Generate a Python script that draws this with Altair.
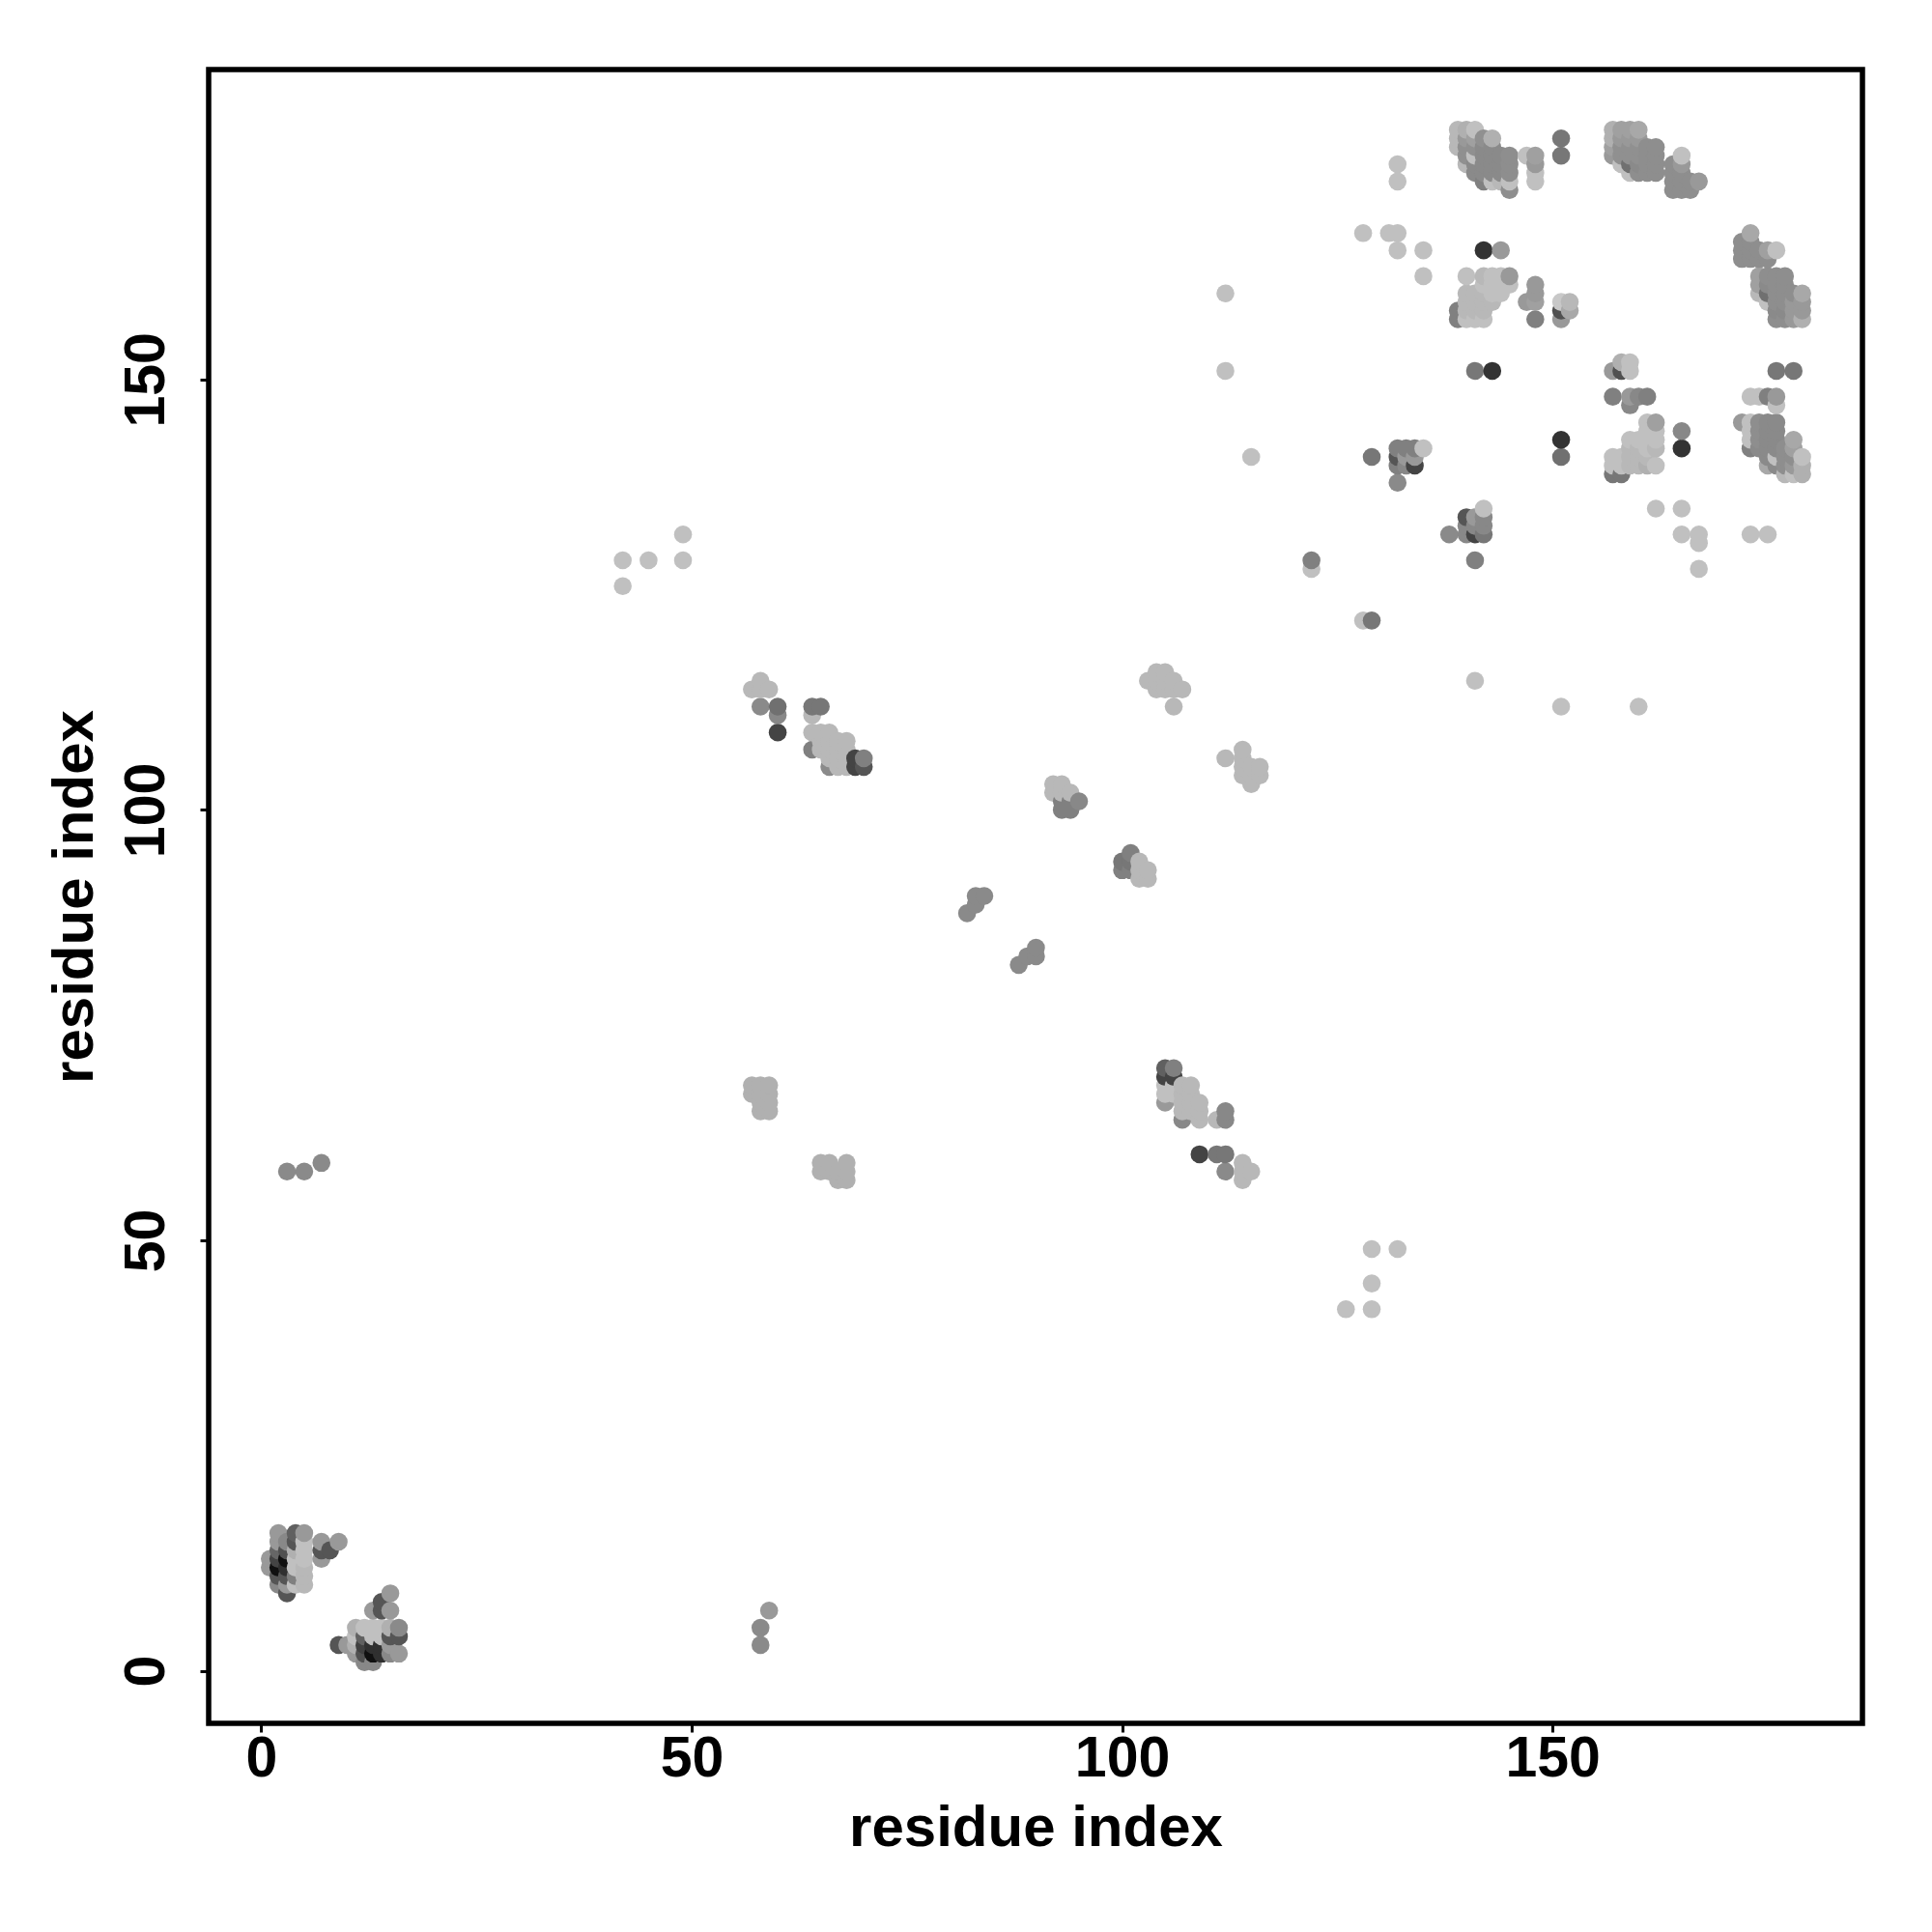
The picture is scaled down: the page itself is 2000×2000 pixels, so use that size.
import altair as alt
import pandas as pd

# (residue x, residue y, gray level)
low_a = [(1,13,0x99),(1,12,0x99),(2,16,0x99),(2,15,0x99),(2,14,0x66),(2,13,0x44),(2,12,0x10),(2,11,0x55),(2,10,0x88),
         (3,15,0x88),(3,14,0x50),(3,13,0x10),(3,12,0x30),(3,11,0x55),(3,10,0x99),(3,9,0x55),
         (4,16,0x60),(4,15,0x55),(4,14,0xB0),(4,13,0xC0),(4,12,0xC0),(4,11,0x80),(4,10,0xC0),
         (5,16,0x99),(5,15,0xC0),(5,14,0xC0),(5,13,0xC0),(5,12,0xB8),(5,11,0xB8),(5,10,0xB8),
         (7,15,0x99),(7,14,0x55),(7,13,0x99),(8,14,0x55),(9,15,0x99)]
low_b = [(9,3,0x55),(10,3,0x99),(11,5,0xB0),(11,4,0xC0),(11,3,0xB0),(11,2,0x99),
         (12,5,0xC0),(12,4,0x60),(12,3,0x40),(12,2,0x50),(12,1,0x88),
         (13,7,0x99),(13,5,0xC0),(13,4,0xC0),(13,3,0x30),(13,2,0x10),(13,1,0x88),
         (14,8,0x55),(14,7,0x55),(14,5,0xC0),(14,4,0xC0),(14,3,0x30),(14,2,0x30),
         (15,9,0x99),(15,7,0x99),(15,5,0xB0),(15,4,0x55),(15,3,0x99),(15,2,0x88),
         (16,5,0x8A),(16,4,0x55),(16,2,0x99)]
sparse_dark = [(3,58,0x8A),(5,58,0x8A),(7,59,0x8A),(59,7,0x99),(58,5,0x8A),(58,3,0x8A),
               (122,129,0x80),(129,122,0x77),(141,129,0x80),(129,141,0x77),
               (142,165,0x33),(144,165,0x99),(141,151,0x77),(143,151,0x33),
               (151,143,0x33),(151,141,0x70),(165,144,0x88),(165,142,0x33),
               (151,178,0x77),(151,176,0x77),(176,151,0x77),(178,151,0x77)]
sparse_light = [(42,129,0xC0),(42,126,0xC0),(45,129,0xC0),(49,129,0xC0),(49,132,0xC0),
                (122,128,0xC0),(128,122,0xC0),(129,49,0xC0),(132,49,0xC0),(129,45,0xC0),
                (129,42,0xC0),(126,42,0xC0),(141,115,0xC0),(151,112,0xC0),(160,112,0xC0),
                (112,160,0xC0),(112,151,0xC0),(115,141,0xC0),(128,167,0xC0),(131,167,0xC0),
                (132,167,0xC0),(132,165,0xC0),(132,173,0xC0),(132,175,0xC0),(135,165,0xC0),
                (135,162,0xC0),(162,135,0xC0),(165,135,0xC0),(165,132,0xC0),(167,132,0xC0),
                (167,131,0xC0),(167,128,0xC0),(173,132,0xC0),(175,132,0xC0)]
mid_a = [(57,114,0xB8),(58,115,0xB8),(58,114,0xB8),(59,114,0xB8),(58,112,0x8A),(60,112,0x70),(60,111,0x88),(60,109,0x44),
         (64,112,0x77),(65,112,0x77),(64,111,0xB8),(64,109,0xB8),(65,109,0xB8),(66,109,0xB8),(64,107,0x80),
         (65,108,0xB8),(66,108,0xB8),(67,108,0xB8),(68,108,0xB8),(65,107,0xB8),(66,107,0xB8),(67,107,0xB8),(68,107,0xB8),
         (66,106,0xB8),(67,106,0xB8),(68,106,0xB8),(66,105,0x8A),(67,105,0xB8),(68,105,0xB8),
         (69,106,0x44),(70,106,0x80),(69,105,0x44),(70,105,0x55)]
mid_b = [(57,68,0xB0),(58,68,0xB0),(59,68,0xB0),(57,67,0xB0),(58,67,0xB0),(59,67,0xB0),(58,66,0xB0),(59,66,0xB0),(58,65,0xB0),(59,65,0xB0),
         (65,59,0xB0),(66,59,0xB0),(68,59,0xB0),(65,58,0xB0),(66,58,0xB0),(67,58,0xB0),(68,58,0xB0),(67,57,0xB0),(68,57,0xB0)]
mid_c = [(103,115,0xB8),(104,116,0xB8),(105,116,0xB8),(104,115,0xB8),(105,115,0xB8),(106,115,0xB8),(104,114,0xB8),(105,114,0xB8),(106,114,0xB8),(107,114,0xB8),(106,112,0xB8),
         (112,106,0xB8),(114,107,0xB8),(114,106,0xB8),(114,105,0xB8),(115,105,0xB8),(116,105,0xB8),(114,104,0xB8),(115,104,0xB8),(116,104,0xB8),(115,103,0xB8),
         (92,103,0xB8),(93,103,0xB8),(92,102,0xB8),(93,102,0xB8),(94,102,0xB8),(93,101,0x80),(93,100,0x80),(94,101,0x80),(94,100,0x80),(95,101,0x88),
         (100,94,0x77),(100,93,0x80),(101,95,0x80),(101,94,0x77),(101,93,0x80),(102,94,0xB8),(102,93,0xB8),(102,92,0xB8),(103,93,0xB8),(103,92,0xB8),
         (82,88,0x8A),(83,89,0x8A),(83,90,0x8A),(84,90,0x8A),(88,82,0x8A),(89,83,0x8A),(90,83,0x8A),(90,84,0x8A)]
mid_d = [(105,70,0x60),(106,70,0x80),(105,69,0x44),(106,69,0x44),(105,68,0xC0),(105,67,0xC0),(105,66,0x99),(106,68,0xC0),(106,67,0xC0),
         (107,68,0xB8),(107,67,0xB8),(107,66,0xB8),(107,65,0xB8),(107,64,0x88),(108,68,0xB8),(108,67,0xB8),(108,66,0xB8),(108,65,0xB8),
         (109,66,0xB8),(109,65,0xB8),(109,64,0xB8),(111,64,0xB8),(112,65,0x88),(112,64,0x88),
         (109,60,0x44),(111,60,0x77),(112,60,0x77),(112,58,0x8A),(114,59,0xB8),(114,58,0xB8),(114,57,0xB8),(115,58,0xB8)]
up_a = [(139,179,0xB8),(140,179,0xB0),(141,179,0xC0),(139,178,0xB8),(140,178,0x99),(141,178,0xA0),(142,178,0x90),(143,178,0xB0),
        (139,177,0xB8),(140,177,0x90),(141,177,0x90),(142,177,0x8A),(143,177,0x8A),
        (140,176,0x90),(141,176,0xC0),(142,176,0x8A),(143,176,0x8A),(144,176,0x8A),(145,176,0x8E),
        (140,175,0xB8),(141,175,0x8A),(142,175,0x8A),(143,175,0x8A),(144,175,0x8A),(145,175,0x8E),
        (141,174,0x8A),(142,174,0x8A),(143,174,0x8A),(144,174,0x8A),(145,174,0x8E),
        (142,173,0x80),(143,173,0xC0),(144,173,0xB8),(145,173,0xC0),(145,172,0x8E),
        (147,176,0xC0),(148,176,0xA0),(148,175,0x99),(148,174,0xC0),(148,173,0xC0)]
up_b = [(157,179,0xB0),(158,179,0xA0),(159,179,0xA0),(160,179,0xA8),
        (157,178,0xB0),(158,178,0x99),(159,178,0x99),(160,178,0x99),
        (157,177,0xA0),(158,177,0x90),(159,177,0x90),(160,177,0x90),(161,177,0x8E),(162,177,0x8E),
        (157,176,0x99),(158,176,0x90),(159,176,0x90),(160,176,0x90),(161,176,0x8E),(162,176,0x8E),
        (158,175,0xC0),(159,175,0x70),(160,175,0x8A),(161,175,0x8E),(162,175,0x8E),
        (159,174,0xC0),(160,174,0x8E),(161,174,0x8E),(162,174,0x8E),
        (165,176,0xC0),(164,175,0x8E),(165,175,0x99),(164,174,0x8E),(165,174,0x8E),
        (164,173,0x8E),(165,173,0x8E),(166,173,0x8E),(167,173,0x99),(164,172,0x8E),(165,172,0x8E),(166,172,0x8E)]
up_c = [(173,167,0xA8),(172,166,0x8E),(173,166,0x8E),(172,165,0x8E),(173,165,0x8E),(174,165,0x8E),(175,165,0xA0),(176,165,0xC0),
        (172,164,0x8E),(173,164,0x8E),(174,164,0x8E),(175,164,0x8E),
        (174,162,0xA0),(175,162,0x8E),(176,162,0x8E),(177,162,0x8E),
        (174,161,0xA0),(175,161,0x8A),(176,161,0x8E),(177,161,0x8E),
        (174,160,0xB8),(175,160,0x70),(176,160,0x8E),(177,160,0x8E),(178,160,0x8E),(179,160,0xA8),
        (175,159,0xC0),(176,159,0x8E),(177,159,0x8E),(178,159,0x99),(179,159,0x99),
        (176,158,0x8A),(177,158,0x8A),(178,158,0x99),(179,158,0x99),
        (176,157,0x8E),(177,157,0x8E),(178,157,0x99),(179,157,0xB0)]
up_d = [(140,162,0xC0),(142,162,0xB8),(143,162,0xC0),(144,162,0xC0),(145,162,0x99),(145,161,0xC0),
        (142,161,0xC0),(143,161,0xC0),(144,161,0xC0),(140,160,0xB8),(141,160,0xB8),(142,160,0xB8),(143,160,0xC0),(144,160,0xC0),
        (140,159,0xB8),(141,159,0xB8),(142,159,0xB8),(143,159,0xB8),
        (139,158,0x80),(140,158,0xB8),(141,158,0xB8),(142,158,0xB8),(139,157,0x80),(140,157,0xC0),(141,157,0xC0),(142,157,0xC0),
        (148,161,0x99),(148,160,0x99),(147,159,0x99),(148,159,0xA0),(148,157,0x80),
        (151,159,0xC8),(152,159,0xB8),(151,158,0x50),(152,158,0xA8),(151,157,0x99),
        (132,142,0x80),(133,142,0x80),(134,142,0x80),(135,142,0xC0),(132,141,0x55),(133,141,0x99),(134,141,0x99),
        (132,140,0x80),(133,140,0x88),(134,140,0x44),(132,138,0x8A),
        (138,132,0x8A),(140,134,0x55),(140,133,0x88),(140,132,0x88),(141,134,0x99),(141,133,0x88),(141,132,0x44),
        (142,135,0xC0),(142,134,0x88),(142,133,0x88),(142,132,0x77)]
up_e = [(157,151,0x99),(158,151,0x50),(158,152,0xB0),(159,152,0xC0),(159,151,0xC0),
        (157,148,0x80),(159,148,0x99),(160,148,0x88),(161,148,0x80),(159,147,0x88),
        (161,145,0xC0),(162,145,0xA0),(161,144,0xC0),(162,144,0xC0),
        (159,143,0xC0),(160,143,0xC0),(161,143,0xC0),(162,143,0xC0),(159,142,0xB8),(160,142,0xB8),(161,142,0xC0),(162,142,0xB8),
        (157,141,0xC0),(158,141,0xC0),(159,141,0xB8),(160,141,0xB8),(161,141,0xB8),
        (157,140,0xC0),(158,140,0xC0),(159,140,0xB8),(160,140,0xB8),(161,140,0xB0),(162,140,0xC0),
        (157,139,0x77),(158,139,0x77),
        (173,148,0xC0),(174,148,0xC0),(175,148,0x80),(176,148,0x99),(176,147,0xC0),
        (172,145,0x99),(173,145,0xC0),(174,145,0x8E),(175,145,0x8A),(176,145,0x8A),
        (173,144,0xC0),(174,144,0x8E),(175,144,0x8A),(176,144,0x8A),
        (173,143,0xC0),(174,143,0x8E),(175,143,0x8A),(176,143,0x8A),(178,143,0xA8),
        (173,142,0x80),(174,142,0x8A),(175,142,0x8A),(176,142,0x8A),(177,142,0x8E),(178,142,0xA0),
        (175,141,0x8A),(176,141,0xC0),(177,141,0x8E),(178,141,0x8E),(179,141,0xC0),
        (175,140,0xA8),(176,140,0x8A),(177,140,0x8E),(178,140,0x99),(179,140,0xB0),
        (177,139,0xB8),(178,139,0xC0),(179,139,0xB0)]

clusters = [low_a, low_b, sparse_dark, sparse_light, mid_a, mid_b, mid_c, mid_d, up_a, up_b, up_c, up_d, up_e]
axis_ticks = [0, 50, 100, 150]
axis_domain = [-6.1, 186]
axis_title = "residue index"

rows = [r for c in clusters for r in c]
df = pd.DataFrame(rows, columns=["x", "y", "g"]).sort_values(["x", "y"], kind="stable")
df["shade"] = df["g"].map(lambda v: "#%02x%02x%02x" % (v, v, v))

FONT = "Liberation Sans"
common = dict(grid=False, domain=False, values=axis_ticks, tickColor="black", tickWidth=3, tickSize=9,
              labelFont=FONT, labelFontWeight="bold", labelFontSize=59, labelColor="black",
              titleFont=FONT, titleFontWeight="bold", titleFontSize=60, titleColor="black",
              title=axis_title, labelOverlap=False, labelFlush=False)

chart = (
    alt.Chart(df)
    .mark_circle(size=345, opacity=1)
    .encode(
        x=alt.X("x:Q", scale=alt.Scale(domain=axis_domain, nice=False, zero=False),
                axis=alt.Axis(labelPadding=-2, titlePadding=13, **common)),
        y=alt.Y("y:Q", scale=alt.Scale(domain=axis_domain, nice=False, zero=False),
                axis=alt.Axis(labelAngle=270, labelAlign="center", labelBaseline="alphabetic",
                              labelPadding=38, titlePadding=14, **common)),
        color=alt.Color("shade:N", scale=None, legend=None),
    )
    .properties(width=1712, height=1712,
                autosize=alt.AutoSizeParams(type="none"),
                padding={"left": 208, "top": 64, "right": 60, "bottom": 200},
                background="white")
    .configure_view(stroke="black", strokeWidth=5.5)
)

chart.save("out.html", embed_options={"renderer": "svg", "actions": False})
